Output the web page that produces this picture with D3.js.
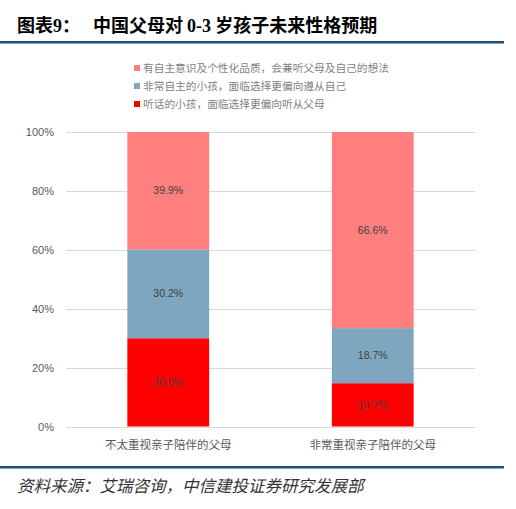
<!DOCTYPE html>
<html>
  <head>
    <meta http-equiv="Content-Type" content="text/html;charset=utf-8">
    <title>中国父母对0-3岁孩子未来性格预期</title>
    <script type="text/javascript" src="https://d3js.org/d3.v7.min.js"></script>
    <style>
	    html, body {
		    margin: 0;
		    padding: 0;
		    background: #fff;
	    }
	    text {
		    font-family: "Liberation Sans", Arial, "Noto Sans CJK SC", sans-serif;
	    }
	    .grid line {
		    stroke: #d9d9d9;
		    stroke-width: 1px;
		    shape-rendering: crispEdges;
	    }
    </style>
  </head>
  <body>
	<script type="text/javascript">

// data
var categories = ["不太重视亲子陪伴的父母", "非常重视亲子陪伴的父母"];
var seriesNames = ["有自主意识及个性化品质，会兼听父母及自己的想法", "非常自主的小孩，面临选择更偏向遵从自己", "听话的小孩，面临选择更偏向听从父母"];
var balanced = [39.9, 66.6];
var selfMinded = [30.2, 18.7];
var obedient = [30.0, 14.7];
var yTicks = [0, 0.2, 0.4, 0.6, 0.8, 1];

var colors = ["#ff7f7f", "#7fa6bf", "#ff0000"];

var W = 516, H = 509;
var plot = {left: 66, right: 475, top: 132, bottom: 426.5};

var rows = categories.map(function(c, i) {
	return {cat: c, obedient: obedient[i], selfMinded: selfMinded[i], balanced: balanced[i]};
});
var keys = ["obedient", "selfMinded", "balanced"];
var keyColor = {balanced: colors[0], selfMinded: colors[1], obedient: colors[2]};

var stack = d3.stack().keys(keys).offset(d3.stackOffsetExpand);
var layers = stack(rows);

var x = d3.scaleBand()
	.domain(categories)
	.range([plot.left, plot.right])
	.paddingInner(0.6)
	.paddingOuter(0.3);

var y = d3.scaleLinear()
	.domain([0, 1])
	.range([plot.bottom, plot.top]);

var svg = d3.select("body").append("svg").attr("width", W).attr("height", H);

// title
var title = svg.append("g").attr("font-weight", "bold").attr("fill", "#000");
var t1 = title.append("text").attr("x", 17).attr("y", 32).attr("font-size", "18px")
	.style("font-family", "'Noto Sans CJK SC', sans-serif");
t1.append("tspan").text("图表");
t1.append("tspan").style("font-family", "'Liberation Serif', serif").text("9");
t1.append("tspan").text("：");
var t2 = title.append("text").attr("x", 93).attr("y", 32).attr("font-size", "18px")
	.style("font-family", "'Noto Sans CJK SC', sans-serif");
t2.append("tspan").text("中国父母对 ");
t2.append("tspan").style("font-family", "'Liberation Serif', serif").text("0-3");
t2.append("tspan").text(" 岁孩子未来性格预期");

svg.append("rect").attr("x", 0).attr("y", 41).attr("width", 504).attr("height", 2.5).attr("fill", "#1f4e79");
svg.append("rect").attr("x", 0).attr("y", 466).attr("width", 504).attr("height", 2.5).attr("fill", "#1f4e79");

// legend
var legend = svg.append("g").attr("transform", "translate(134,0)");
seriesNames.forEach(function(name, i) {
	var ly = 68 + i * 18;
	legend.append("rect").attr("x", 0).attr("y", ly - 3).attr("width", 6).attr("height", 6).attr("fill", colors[i]);
	legend.append("text").attr("x", 9).attr("y", ly).attr("dy", "0.35em")
		.attr("font-size", "10.7px").attr("fill", "#7f7f7f").text(name);
});

// grid
var grid = svg.append("g").attr("class", "grid");
grid.selectAll("line").data(yTicks).enter().append("line")
	.attr("x1", plot.left).attr("x2", plot.right)
	.attr("y1", function(d) { return Math.round(y(d)) + 0.5; })
	.attr("y2", function(d) { return Math.round(y(d)) + 0.5; });

// y axis labels
var yAxis = d3.axisLeft(y).tickValues(yTicks).tickFormat(d3.format(".0%")).tickSize(0).tickPadding(12);
var yg = svg.append("g").attr("transform", "translate(" + plot.left + ",0)").call(yAxis);
yg.select(".domain").remove();
yg.selectAll("text").attr("font-size", "11px").attr("fill", "#595959")
	.style("font-family", "'Liberation Sans', Arial, sans-serif");

// bars
var barGroups = svg.append("g").selectAll("g").data(layers).enter().append("g")
	.attr("fill", function(d) { return keyColor[d.key]; });

barGroups.selectAll("rect").data(function(d) { return d; }).enter().append("rect")
	.attr("x", function(d) { return x(d.data.cat); })
	.attr("width", x.bandwidth())
	.attr("y", function(d) { return y(d[1]); })
	.attr("height", function(d) { return y(d[0]) - y(d[1]); });

barGroups.selectAll("text").data(function(d) { return d.map(function(p) { return {p: p, key: d.key}; }); })
	.enter().append("text")
	.attr("x", function(d) { return x(d.p.data.cat) + x.bandwidth() / 2; })
	.attr("y", function(d) { return (y(d.p[0]) + y(d.p[1])) / 2; })
	.attr("dy", "0.35em")
	.attr("text-anchor", "middle")
	.attr("font-size", "10.5px")
	.attr("fill", "#404040")
	.text(function(d) { return d.p.data[d.key].toFixed(1) + "%"; });

// x axis labels
var xAxis = d3.axisBottom(x).tickSize(0).tickPadding(14);
var xg = svg.append("g").attr("transform", "translate(0," + plot.bottom + ")").call(xAxis);
xg.select(".domain").remove();
xg.selectAll("text").attr("font-size", "11.5px").attr("fill", "#595959")
	.style("font-family", "'Noto Sans CJK SC', sans-serif");

// source
svg.append("text").attr("x", 17).attr("y", 486).attr("dy", "0.35em")
	.attr("font-size", "16.5px").attr("font-style", "italic").attr("fill", "#333")
	.style("font-family", "'Noto Sans CJK SC', sans-serif")
	.text("资料来源：艾瑞咨询，中信建投证券研究发展部");

	</script>
  </body>
</html>
